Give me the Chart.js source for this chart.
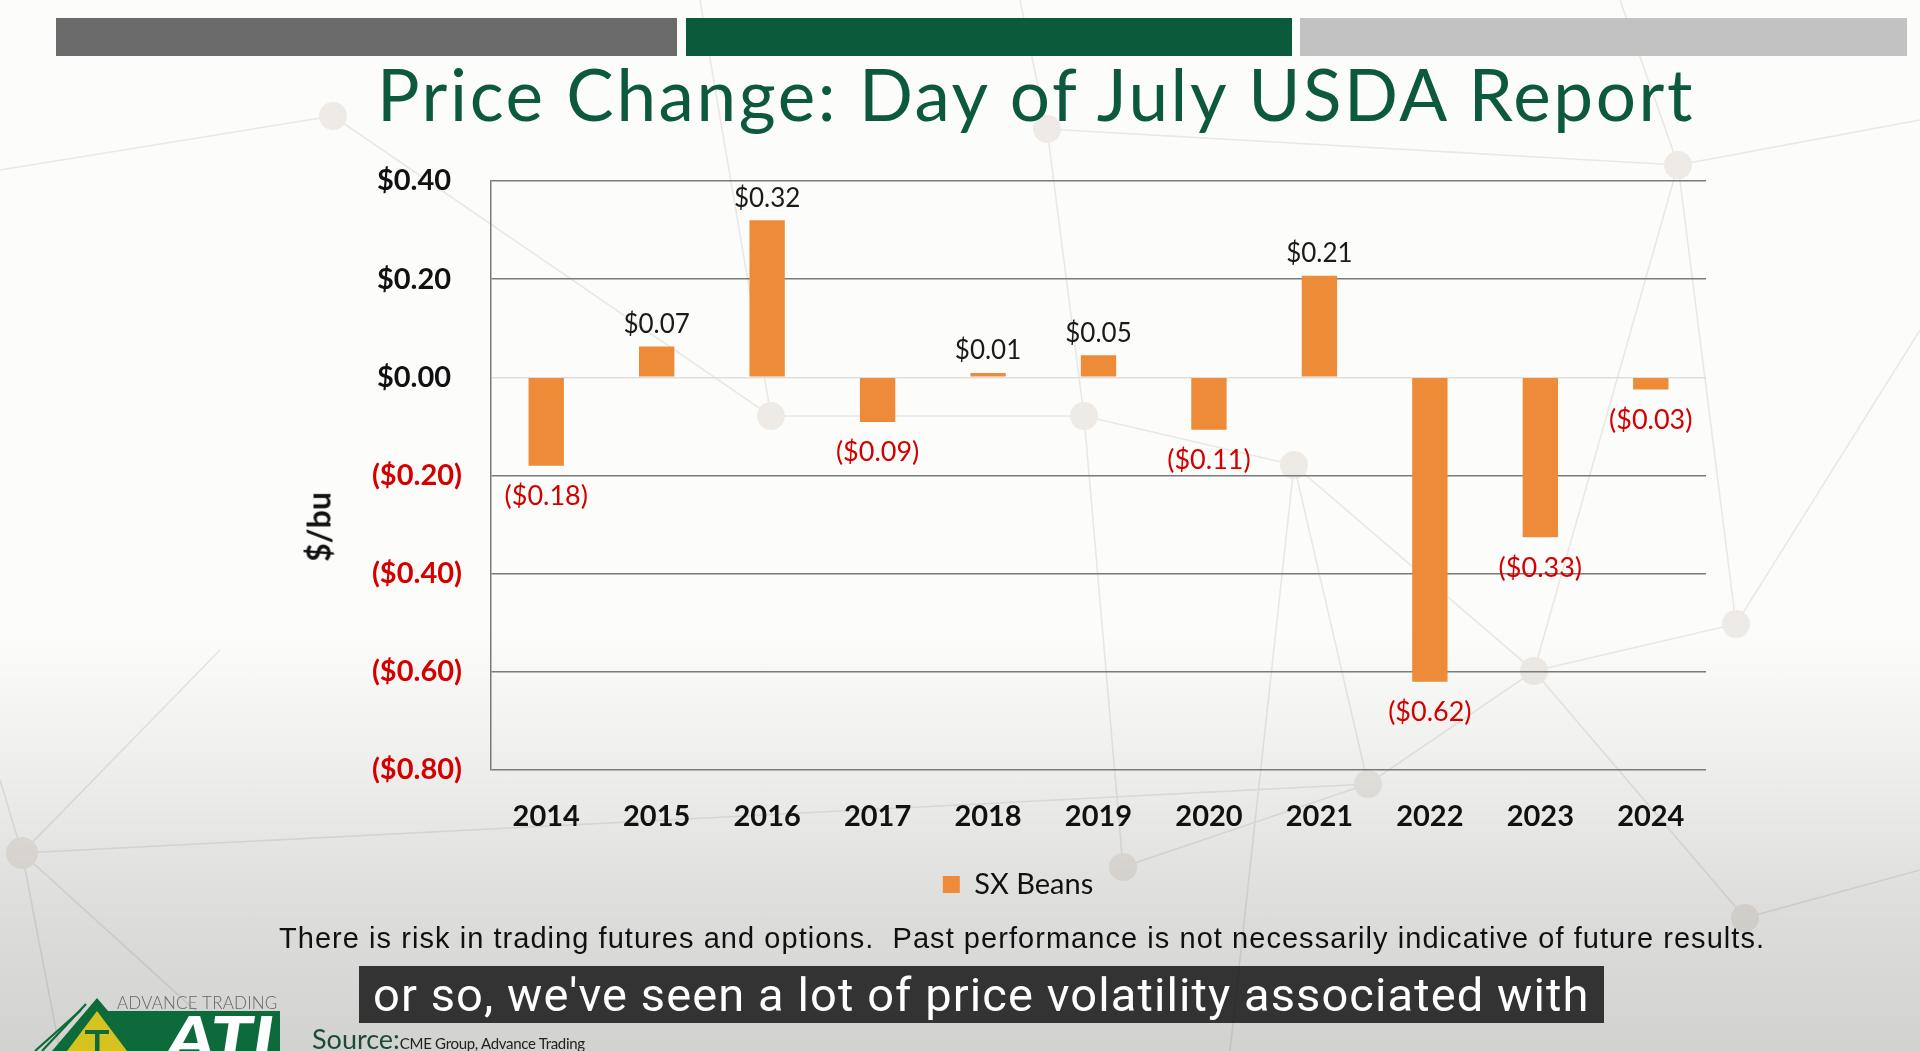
<!DOCTYPE html>
<html>
<head>
<meta charset="utf-8">
<script src="https://cdn.jsdelivr.net/npm/chart.js@4.4.1/dist/chart.umd.min.js"></script>
<style>
  html, body { margin: 0; padding: 0; width: 1920px; height: 1051px; overflow: hidden; background: #fcfcfb; }
  #stage { position: relative; width: 1920px; height: 1051px; }
  #bg, #shade, #chartWrap, .ov { position: absolute; }
  #bg { left: 0; top: 0; }
  #shade { left: 0; top: 0; width: 1920px; height: 1051px;
    background: linear-gradient(to bottom, rgba(0,0,0,0) 0%, rgba(0,0,0,0) 60%, rgba(0,0,0,0.05) 72%, rgba(0,0,0,0.12) 86%, rgba(0,0,0,0.17) 100%); }
  #chartWrap { left: 0; top: 0; width: 1920px; height: 1051px; }
  .bar { position: absolute; top: 18px; height: 38px; }
  #title { position: absolute; left: 377px; top: 51px; font-family: Lato, sans-serif; font-size: 71px; color: #0c5a3b; white-space: nowrap; letter-spacing: 2.6px; }
  #ytitle { position: absolute; left: 318px; top: 527px; transform: translate(-50%, -50%) rotate(-90deg); font-family: Lato, sans-serif; font-weight: 700; font-size: 32px; color: #111; white-space: nowrap; }
  #disc { position: absolute; left: 279px; top: 922px; font-family: "Liberation Sans", Arial, sans-serif; font-size: 29px; letter-spacing: 1.05px; color: #111; white-space: nowrap; }
  #cap { position: absolute; left: 359px; top: 966px; width: 1245px; height: 57px; background: rgba(10,10,10,0.8); }
  #capText { position: absolute; left: 373px; top: 966px; height: 57px; line-height: 57px; font-family: Roboto, sans-serif; font-size: 47px; letter-spacing: 1.1px; color: #fff; white-space: nowrap; }
  #adv { position: absolute; left: 117px; top: 992px; font-family: Lato, sans-serif; font-weight: 300; font-size: 17px; color: #666; letter-spacing: 0.2px; white-space: nowrap; }
  #src { position: absolute; left: 312px; top: 1022px; font-family: Lato, sans-serif; font-size: 27px; color: #1b4d36; white-space: nowrap; }
  #src small { font-size: 15px; color: #222; letter-spacing: -0.3px; }
</style>
</head>
<body>
<div id="stage">
  <svg id="bg" width="1920" height="1051" viewBox="0 0 1920 1051">
    <g stroke="#ebe8e3" stroke-width="1.6" fill="none">
      <line x1="1678" y1="165" x2="1534" y2="671"/>
      <line x1="1678" y1="165" x2="1736" y2="624"/>
      <line x1="1678" y1="165" x2="1620" y2="0"/>
      <line x1="1678" y1="165" x2="1920" y2="120"/>
      <line x1="1678" y1="165" x2="1047" y2="129"/>
      <line x1="1294" y1="465" x2="1084" y2="416"/>
      <line x1="1294" y1="465" x2="1368" y2="784"/>
      <line x1="1294" y1="465" x2="1534" y2="671"/>
      <line x1="1294" y1="465" x2="1230" y2="1051"/>
      <line x1="1084" y1="416" x2="1047" y2="129"/>
      <line x1="1084" y1="416" x2="771" y2="416"/>
      <line x1="1084" y1="416" x2="1123" y2="867"/>
      <line x1="771" y1="416" x2="333" y2="116"/>
      <line x1="771" y1="416" x2="700" y2="0"/>
      <line x1="1534" y1="671" x2="1368" y2="784"/>
      <line x1="1534" y1="671" x2="1736" y2="624"/>
      <line x1="1534" y1="671" x2="1745" y2="918"/>
      <line x1="1736" y1="624" x2="1920" y2="330"/>
      <line x1="1745" y1="918" x2="1920" y2="870"/>
      <line x1="1368" y1="784" x2="1123" y2="867"/>
      <line x1="22" y1="853" x2="1368" y2="784"/>
      <line x1="22" y1="853" x2="220" y2="650"/>
      <line x1="22" y1="853" x2="60" y2="1051"/>
      <line x1="22" y1="853" x2="0" y2="780"/>
      <line x1="1047" y1="129" x2="1020" y2="0"/>
      <line x1="333" y1="116" x2="0" y2="170"/>
      <line x1="22" y1="853" x2="240" y2="1051"/>
    </g>
    <g fill="#eeebe6">
      <circle cx="1678" cy="165" r="14"/>
      <circle cx="1294" cy="465" r="14"/>
      <circle cx="1084" cy="416" r="14"/>
      <circle cx="1534" cy="671" r="14"/>
      <circle cx="1736" cy="624" r="14"/>
      <circle cx="1368" cy="784" r="14"/>
      <circle cx="1123" cy="867" r="14"/>
      <circle cx="1745" cy="918" r="14"/>
      <circle cx="22" cy="853" r="16"/>
      <circle cx="333" cy="116" r="14"/>
      <circle cx="1047" cy="129" r="14"/>
      <circle cx="771" cy="416" r="14"/>
    </g>
  </svg>
  <div id="shade"></div>

  <div class="bar" style="left:56px;width:621px;background:#6b6b6b;"></div>
  <div class="bar" style="left:686px;width:606px;background:#0b5a3c;"></div>
  <div class="bar" style="left:1300px;width:607px;background:#c2c2c2;"></div>
  <div id="title">Price Change: Day of July USDA Report</div>

  <div id="chartWrap"><canvas id="c" width="1920" height="1051"></canvas></div>
  <div id="ytitle"></div>

  <div id="disc">There is risk in trading futures and options.&nbsp; Past performance is not necessarily indicative of future results.</div>

  <svg class="ov" style="left:0px;top:980px;" width="300" height="71" viewBox="0 0 300 71">
    <g stroke="#0d6a3a" stroke-width="2.2">
      <line x1="86" y1="24" x2="42" y2="71"/>
      <line x1="81" y1="30" x2="35" y2="71"/>
    </g>
    <polygon points="100,31 280,31 280,71 72,71" fill="#0d6a3a"/>
    <polygon points="97,18 52,71 142,71" fill="#0d6a3a"/>
    <polygon points="97,31 67,71 127,71" fill="#d6c31f"/>
    <rect x="85" y="50" width="24" height="4" fill="#0d6a3a"/>
    <rect x="95" y="50" width="4.5" height="21" fill="#0d6a3a"/>
    <text x="166" y="80" font-family="Lato, sans-serif" font-weight="900" font-style="italic" font-size="60" fill="#ffffff" textLength="108" lengthAdjust="spacingAndGlyphs">ATI</text>
  </svg>
  <div id="adv">ADVANCE TRADING</div>
  <div id="src">Source:<small>CME Group, Advance Trading</small></div>

  <div id="cap"></div>
  <div id="capText">or so, we've seen a lot of price volatility associated with</div>
</div>

<script>
// ---- data ----
const categories = ['2014', '2015', '2016', '2017', '2018', '2019', '2020', '2021', '2022', '2023', '2024'];
const seriesName = 'SX Beans';
const priceChange = [-0.18, 0.063, 0.32, -0.091, 0.009, 0.045, -0.107, 0.207, -0.62, -0.326, -0.025];
const labelValues = [-0.18, 0.07, 0.32, -0.09, 0.01, 0.05, -0.11, 0.21, -0.62, -0.33, -0.03];
const yTickValues = [0.4, 0.2, 0, -0.2, -0.4, -0.6, -0.8];
const yAxisTitle = '$/bu';

document.getElementById('ytitle').textContent = yAxisTitle;

// ---- helpers ----
const fmtMoney = v => {
  const r = Math.round(v * 100) / 100;
  if (Math.abs(r) < 1e-9) return '$0.00';
  return r < 0 ? '($' + Math.abs(r).toFixed(2) + ')' : '$' + r.toFixed(2);
};
// accounting-style tick text: positive values leave room for the ")" of negatives
const fmtTick = v => (v < -1e-9 ? fmtMoney(v) : fmtMoney(v) + '\u2005\u2009');
const RED = '#d40000';
const BAR = '#ED8B39';

const barLabels = {
  id: 'barLabels',
  afterDatasetsDraw(chart) {
    const ctx = chart.ctx;
    const meta = chart.getDatasetMeta(0);
    ctx.save();
    ctx.textAlign = 'center';
    meta.data.forEach((el, i) => {
      const v = labelValues[i];
      if (v < 0) {
        ctx.font = '400 27px Lato';
        ctx.fillStyle = RED;
        ctx.textBaseline = 'top';
        ctx.fillText(fmtMoney(v), el.x, el.y + 17);
      } else {
        ctx.font = '400 26px Lato';
        ctx.fillStyle = '#1a1a1a';
        ctx.textBaseline = 'bottom';
        ctx.fillText(fmtMoney(v), el.x, el.y - 9);
      }
    });
    ctx.restore();
  }
};

new Chart(document.getElementById('c'), {
  type: 'bar',
  data: {
    labels: categories,
    datasets: [{
      label: seriesName,
      data: priceChange,
      backgroundColor: BAR,
      borderWidth: 0,
      barPercentage: 1,
      categoryPercentage: 0.32
    }]
  },
  options: {
    responsive: false,
    animation: false,
    devicePixelRatio: 1,
    layout: { padding: { top: 181, left: 330, right: 214, bottom: 142 } },
    plugins: {
      legend: {
        position: 'bottom',
        labels: {
          color: '#111',
          font: { family: 'Lato', size: 29, weight: '400' },
          boxWidth: 17, boxHeight: 17, padding: 10
        }
      },
      tooltip: { enabled: false }
    },
    scales: {
      x: {
        grid: { display: false, drawTicks: false },
        border: { display: false },
        ticks: { color: '#111', padding: 29, font: { family: 'Lato', size: 29, weight: '700' } },
        afterFit: s => { s.height = 90; }
      },
      y: {
        min: -0.8, max: 0.4,
        afterBuildTicks: s => { s.ticks = yTickValues.map(v => ({ value: v })); },
        grid: {
          drawTicks: false,
          lineWidth: 1.5,
          color: c => (c.tick && Math.abs(c.tick.value) < 1e-9) ? '#dedede' : '#7a7a7a'
        },
        border: { display: true, color: '#7a7a7a', width: 1.5 },
        ticks: {
          padding: 29,
          color: c => c.tick.value < -1e-9 ? RED : '#111',
          font: { family: 'Lato', size: 29, weight: '700' },
          callback: v => fmtTick(v)
        },
        afterFit: s => { s.width = 161; }
      }
    }
  },
  plugins: [barLabels]
});
</script>
</body>
</html>
